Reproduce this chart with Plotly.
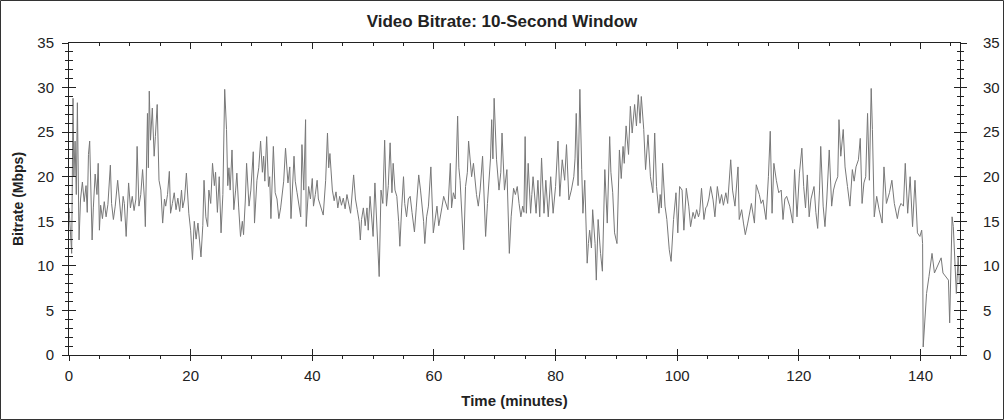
import plotly.graph_objects as go

# ---- data (minutes, Mbps) ----
time_min = [
    0.0, 0.2, 0.44, 0.66, 0.8, 1.0, 1.2, 1.38, 1.5, 1.65, 1.9, 2.2, 2.5, 2.8, 3.0, 3.2, 3.4, 3.6, 3.8, 4.0,
    4.3, 4.6, 4.8, 5.0, 5.2, 5.5, 5.8, 6.1, 6.4, 6.8, 7.0, 7.3, 7.6, 8.0, 8.3, 8.6, 8.9, 9.1, 9.4, 9.8,
    10.1, 10.4, 10.7, 11.0, 11.2, 11.5, 11.8, 12.1, 12.4, 12.55, 12.9, 13.05, 13.2, 13.4, 13.7, 14.0, 14.2, 14.5, 14.8, 15.1,
    15.4, 15.7, 15.9, 16.2, 16.5, 16.7, 17.0, 17.3, 17.6, 17.9, 18.2, 18.5, 18.7, 19.0, 19.3, 19.7, 20.0, 20.3, 20.6, 20.9,
    21.2, 21.5, 21.7, 22.0, 22.2, 22.5, 22.8, 23.0, 23.3, 23.6, 23.9,
    24.1, 24.4, 24.7, 25.0, 25.3, 25.6, 25.9, 26.1, 26.3, 26.5, 26.8, 27.1, 27.4, 27.6, 27.9, 28.2, 28.5, 28.7, 29.0, 29.2,
    29.6, 29.9, 30.3, 30.5, 30.9, 31.2, 31.5, 31.8, 32.0, 32.2, 32.5, 32.8, 33.0, 33.2, 33.6, 33.9, 34.2, 34.5, 34.8, 35.0,
    35.3, 35.6, 36.0, 36.3, 36.5, 37.0, 37.2, 37.5, 37.8, 38.1, 38.3, 38.6, 38.9, 39.0, 39.4, 39.7, 40.0, 40.2, 40.5, 40.8,
    41.0, 41.3, 41.8, 42.2, 42.5, 42.7, 42.9, 43.3, 43.6, 43.9, 44.2, 44.5, 44.8, 45.1, 45.4, 45.7, 46.0, 46.3, 46.8, 47.1,
    47.4, 47.7, 47.9, 48.1,
    48.4, 48.7, 49.0, 49.2, 49.5, 49.8, 50.0, 50.3, 50.6, 50.85, 51.0, 51.3, 51.6, 51.9, 52.2, 52.5, 52.8, 53.1, 53.3, 53.6,
    53.9, 54.2, 54.4, 54.7, 55.0, 55.2, 55.5, 55.8, 56.1, 56.4, 56.8, 57.1, 57.5, 57.8, 58.0, 58.3, 58.5, 58.8, 59.1, 59.5,
    59.9, 60.2, 60.5, 60.8, 61.0, 61.3, 61.6, 62.0, 62.3, 62.7, 62.9, 63.2, 63.5, 63.9, 64.1, 64.3, 64.6, 64.9, 65.2, 65.5,
    65.7, 66.0, 66.2, 66.5, 66.8, 67.0, 67.3, 67.6, 68.0, 68.3, 68.5, 68.8, 69.0, 69.3, 69.5, 69.7, 69.9, 70.1, 70.3, 70.7,
    71.0, 71.2, 71.6, 72.0, 72.2, 72.4, 72.7,
    72.9, 73.1, 73.4, 73.7, 74.0, 74.3, 74.6, 74.8, 75.0, 75.2, 75.5, 75.9, 76.1, 76.3, 76.8, 77.1, 77.4, 77.7, 78.1, 78.4,
    78.8, 79.2, 79.6, 80.0, 80.4, 80.7, 81.1, 81.5, 81.8, 82.2, 82.6, 83.0, 83.2, 83.4, 83.7, 84.0, 84.3, 84.5, 84.8, 85.0,
    85.2, 85.4, 85.6, 85.9, 86.1, 86.5, 86.7, 87.0, 87.2, 87.4, 87.7, 88.1, 88.5, 88.9, 89.1, 89.4, 89.7, 90.1, 90.5, 90.8,
    91.1, 91.3, 91.6, 92.0, 92.3, 92.6, 93.0, 93.3, 93.6, 93.9, 94.1, 94.5, 94.8, 95.2, 95.6, 96.0, 96.3, 96.6, 97.0,
    97.2, 97.4, 97.6, 98.0, 98.3, 98.7, 99.0, 99.4, 99.8, 100.1, 100.4, 100.8, 101.1, 101.5, 101.9, 102.2, 102.6, 102.9, 103.2, 103.5,
    103.7, 104.0, 104.4, 104.7, 104.9, 105.2, 105.5, 105.9, 106.2, 106.6, 107.0, 107.3, 107.6, 108.0, 108.3, 108.8, 109.1, 109.5, 110.0, 110.2,
    110.6, 110.9, 111.2, 111.6, 111.9, 112.2, 112.7, 113.0, 113.5, 113.8, 114.1, 114.6, 115.0, 115.3, 115.6, 115.9, 116.3, 116.7, 117.1, 117.4,
    117.7, 118.0, 118.5, 119.0, 119.3, 119.7, 120.1, 120.5, 120.8, 121.1,
    121.4, 121.7, 122.0, 122.5, 122.8, 123.1, 123.4, 123.6, 124.0, 124.3, 124.6, 125.0, 125.4, 125.7, 126.0, 126.4, 126.6, 126.9, 127.3, 127.6,
    128.0, 128.4, 128.8, 129.1, 129.4, 129.8, 130.1, 130.4, 130.7, 131.0, 131.3, 131.6, 131.9, 132.1, 132.4, 132.8, 133.2, 133.7, 134.0, 134.4,
    134.9, 135.3, 135.7, 136.2, 136.5, 136.8, 137.2, 137.5, 137.9, 138.3, 138.7, 139.1, 139.5, 139.9, 140.2, 140.35, 140.45, 140.7, 141.0, 141.4,
    141.9, 142.3, 142.8, 143.1, 143.4, 143.7, 144.2, 144.6, 144.8, 145.0, 145.2, 145.4, 145.7, 145.9, 146.2, 146.4,
]

bitrate_mbps = [
    16.5, 14.0, 11.4, 28.8, 20.0, 24.0, 18.0, 28.3, 20.0, 12.9, 17.5, 19.4, 17.2, 19.0, 16.0, 22.5, 24.0, 19.0, 12.9, 16.5,
    20.3, 18.0, 21.5, 14.0, 16.8, 15.3, 17.2, 15.5, 16.9, 21.3, 17.0, 15.2, 16.7, 19.6, 17.0, 15.0, 17.8, 17.0, 13.3, 19.3,
    16.5, 17.8, 16.2, 17.5, 23.4, 16.7, 18.0, 20.8, 17.5, 14.4, 27.1, 21.0, 29.6, 24.1, 27.7, 22.3, 24.5, 28.1, 19.6, 18.5,
    14.8, 17.5, 16.7, 18.0, 20.6, 15.9, 17.0, 18.2, 16.3, 17.6, 16.1, 18.5, 16.5, 17.5, 20.4, 15.9, 14.0, 10.7, 15.0, 13.0,
    14.8, 12.8, 11.0, 14.5, 19.6, 15.5, 14.4, 18.5, 17.0, 21.5, 19.0,
    20.5, 16.0, 20.0, 13.7, 18.0, 29.8, 25.3, 19.0, 21.0, 18.5, 23.0, 16.3, 18.5, 20.4, 16.5, 13.3, 15.0, 13.5, 17.5, 21.5,
    16.7, 18.5, 22.8, 14.8, 19.6, 21.0, 24.0, 20.5, 22.3, 19.5, 24.5, 18.9, 20.0, 15.3, 23.4, 18.2, 17.5, 15.3, 16.5, 17.8,
    19.5, 23.2, 19.3, 21.1, 15.3, 22.3, 19.5, 18.2, 17.0, 15.5, 23.6, 18.5, 26.4, 14.4, 18.9, 17.5, 19.8, 16.7, 18.0, 19.6,
    17.5, 16.8, 15.7, 19.6, 24.9, 21.0, 22.6, 18.5, 17.3, 18.3, 16.5, 17.8, 16.8, 17.6, 16.4, 18.0, 17.0, 15.9, 20.2, 17.5,
    16.3, 15.0, 12.9, 15.2,
    16.5, 14.5, 16.5, 14.0, 17.8, 15.5, 13.3, 19.3, 14.0, 11.0, 8.8, 18.5, 17.0, 24.1, 16.7, 19.0, 23.8, 18.2, 21.5, 18.5,
    17.8, 15.0, 12.2, 16.5, 20.0, 17.0, 15.5, 17.5, 17.8, 16.0, 13.8, 16.5, 20.2, 18.5, 17.0, 15.0, 12.5, 15.5, 16.7, 21.1,
    13.7, 15.5, 16.7, 14.5, 15.2, 16.5, 17.8, 16.8, 16.3, 21.5, 16.5, 18.2, 17.5, 26.8, 21.0, 19.6, 16.0, 11.8, 18.9, 20.5,
    24.0, 21.0, 20.0, 21.5, 19.3, 18.0, 16.7, 18.5, 22.3, 17.5, 13.3, 17.0, 19.6, 22.0, 26.4, 22.0, 28.8, 24.0, 21.9, 18.5,
    20.5, 24.9, 18.5, 20.8, 17.0, 11.4, 15.5,
    17.5, 18.7, 18.0, 18.9, 17.0, 15.5, 16.7, 16.0, 24.5, 15.9, 21.5, 15.9, 18.0, 20.0, 15.9, 19.6, 15.5, 22.1, 15.9, 19.6,
    15.5, 20.0, 15.9, 18.9, 24.0, 17.8, 21.9, 19.6, 23.6, 17.4, 18.5, 20.0, 22.0, 27.1, 19.0, 29.8, 20.8, 15.9, 19.6, 14.0,
    10.3, 12.5, 14.0, 12.0, 16.3, 12.5, 8.4, 15.2, 13.0, 11.4, 9.4, 20.8, 14.8, 24.5, 20.5, 18.2, 13.7, 12.5, 23.0, 19.8,
    23.4, 21.5, 25.7, 22.5, 27.9, 24.9, 28.1, 25.7, 29.2, 26.0, 29.0, 25.3, 20.8, 24.7, 20.0, 18.2, 24.9, 18.9, 15.9,
    18.0, 16.5, 21.5, 16.7, 15.2, 11.8, 10.5, 15.2, 18.2, 13.7, 18.9, 18.5, 14.0, 18.7, 16.7, 14.4, 16.0, 15.3, 16.3, 15.5,
    16.0, 18.7, 15.2, 16.5, 16.7, 17.5, 18.9, 17.4, 15.5, 18.9, 17.0, 18.0, 16.8, 18.2, 17.0, 21.9, 18.5, 16.7, 21.1, 15.2,
    16.3, 14.8, 13.5, 14.8, 16.0, 17.0, 14.8, 19.1, 18.0, 17.0, 17.4, 15.2, 20.0, 25.1, 15.9, 21.5, 19.6, 18.2, 18.5, 15.2,
    17.5, 17.8, 16.7, 14.8, 20.8, 15.5, 20.4, 23.2, 18.9, 16.5,
    20.2, 15.5, 17.5, 18.9, 16.0, 14.2, 18.5, 23.4, 16.7, 14.4, 17.5, 23.0, 16.7, 18.5, 19.3, 20.0, 26.4, 22.3, 25.3, 21.1,
    18.9, 16.7, 20.8, 19.5, 21.1, 21.9, 24.3, 17.0, 19.3, 20.0, 27.1, 19.6, 29.9, 25.3, 15.5, 17.8, 16.3, 14.8, 21.1, 17.0,
    18.2, 19.6, 17.0, 15.3, 16.5, 17.0, 16.7, 21.5, 15.9, 20.0, 14.4, 19.6, 13.7, 13.3, 14.0, 12.5, 0.9, 3.2, 6.9, 8.8,
    11.4, 9.2, 9.9, 10.5, 10.9, 9.2, 8.8, 8.4, 3.6, 9.0, 15.5, 14.4, 9.9, 6.9, 11.0, 8.0,
]

x_ticks = [0, 20, 40, 60, 80, 100, 120, 140]
y_ticks = [0, 5, 10, 15, 20, 25, 30, 35]
x_range = [0, 146.5]
y_range = [0, 35]

title_text = "Video Bitrate: 10-Second Window"
x_title = "Time (minutes)"
y_title = "Bitrate (Mbps)"

FONT = "Liberation Sans, Arial, sans-serif"
AX = "#222222"
W, H = 1004, 420
ML, MR, MT, MB = 69, 44, 43, 65

fig = go.Figure()
fig.add_trace(go.Scatter(
    x=time_min, y=bitrate_mbps, mode="lines",
    line=dict(color="#787878", width=1),
    showlegend=False, hoverinfo="x+y",
))

# invisible helper traces so that the extra (decorative) axes are drawn
for xa, ya in [("x2", "y2"), ("x3", "y3"), ("x", "y4")]:
    fig.add_trace(go.Scatter(x=[None], y=[None], xaxis=xa, yaxis=ya,
                             mode="markers", showlegend=False, hoverinfo="skip"))

tickfont = dict(family=FONT, size=15, color=AX)
common = dict(showgrid=False, zeroline=False, showline=True, linecolor=AX, linewidth=1,
              tickcolor=AX, tickwidth=1, automargin=False)

fig.update_layout(
    width=W, height=H,
    margin=dict(l=ML, r=MR, t=MT, b=MB, autoexpand=False),
    paper_bgcolor="white", plot_bgcolor="white",
    title=dict(text=f"<b>{title_text}</b>", x=0.5, xref="container", xanchor="center",
               y=1 - 21 / H, yanchor="middle",
               font=dict(family=FONT, size=17, color=AX)),
    xaxis=dict(range=x_range, tickvals=x_ticks, ticks="outside", ticklen=5,
               minor=dict(dtick=5, ticks="outside", ticklen=3, tickcolor=AX),
               tickfont=tickfont, ticklabelstandoff=2,
               title=dict(text=f"<b>{x_title}</b>", font=dict(family=FONT, size=15, color=AX), standoff=12),
               **common),
    xaxis2=dict(range=x_range, overlaying="x", side="top", anchor="y", tickvals=x_ticks,
                ticks="inside", ticklen=6, showticklabels=False,
                minor=dict(dtick=5, ticks="inside", ticklen=3, tickcolor=AX), **common),
    xaxis3=dict(range=x_range, overlaying="x", side="bottom", anchor="y", tickvals=x_ticks,
                ticks="inside", ticklen=6, showticklabels=False, **common),
    yaxis=dict(range=y_range, tickvals=y_ticks, ticks="outside", ticklen=6,
               minor=dict(dtick=1, ticks="outside", ticklen=3, tickcolor=AX),
               tickfont=tickfont, ticklabelstandoff=5,
               title=dict(text=f"<b>{y_title}</b>", font=dict(family=FONT, size=14, color=AX), standoff=10),
               **common),
    yaxis2=dict(range=y_range, overlaying="y", side="right", anchor="x", tickvals=y_ticks,
                ticks="outside", ticklen=6, tickfont=tickfont, ticklabelstandoff=13,
                minor=dict(dtick=1, ticks="outside", ticklen=3, tickcolor=AX), **common),
    yaxis3=dict(range=y_range, overlaying="y", side="left", anchor="x", tickvals=y_ticks,
                ticks="inside", ticklen=7, showticklabels=False,
                minor=dict(dtick=1, ticks="inside", ticklen=4, tickcolor=AX), **common),
    yaxis4=dict(range=y_range, overlaying="y", side="right", anchor="x", tickvals=y_ticks,
                ticks="inside", ticklen=6, showticklabels=False,
                minor=dict(dtick=1, ticks="inside", ticklen=3, tickcolor=AX), **common),
)

# thin frame around the whole image (computed from the margins)
pw, ph = W - ML - MR, H - MT - MB
fig.add_shape(type="rect", xref="paper", yref="paper",
              x0=-(ML - 0.5) / pw, x1=1 + (MR - 0.5) / pw,
              y0=-(MB - 0.5) / ph, y1=1 + (MT - 0.5) / ph,
              line=dict(color="#333333", width=1), fillcolor="rgba(0,0,0,0)", layer="below")

fig.write_html("out.html", config={"displayModeBar": False},
               post_script="document.body.style.margin='0px';document.body.style.padding='0px';")
